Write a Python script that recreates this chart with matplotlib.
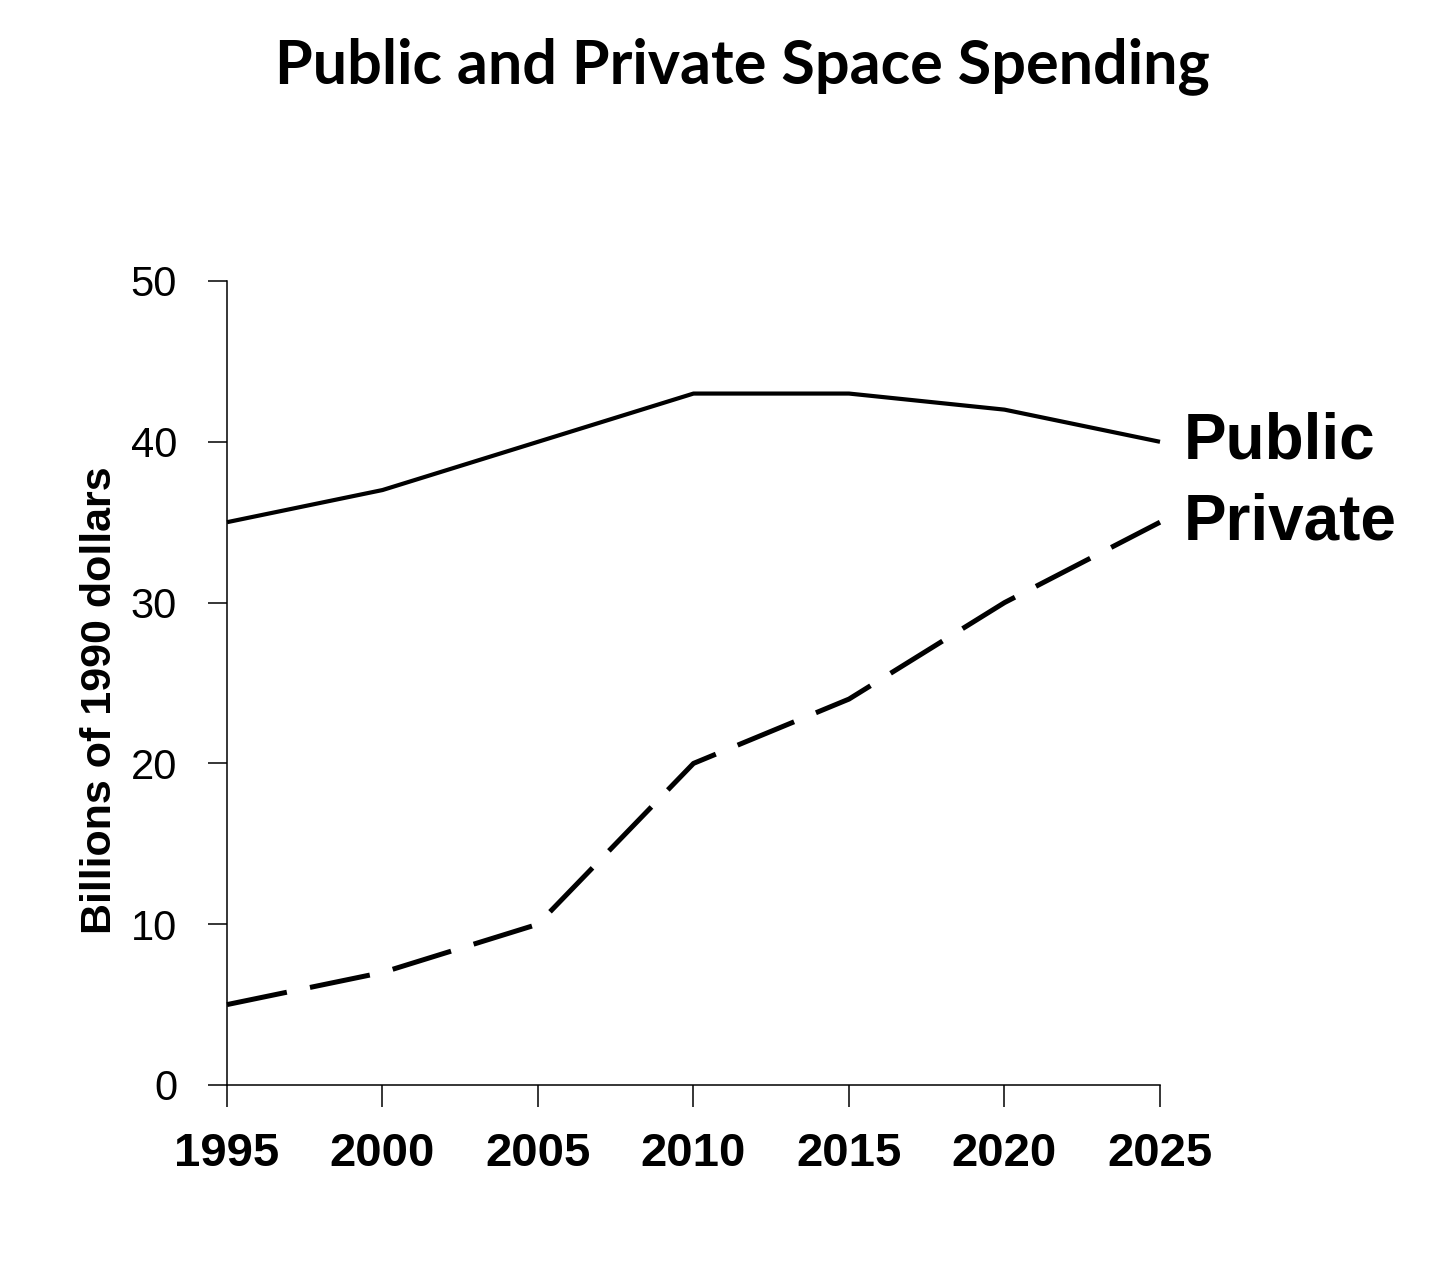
import matplotlib
matplotlib.use("Agg")
import matplotlib.pyplot as plt

years = [1995, 2000, 2005, 2010, 2015, 2020, 2025]
public = [35, 37, 40, 43, 43, 42, 40]
private = [5, 7, 10, 20, 24, 30, 35]
y_ticks = [0, 10, 20, 30, 40, 50]

plt.rcParams['lines.scale_dashes'] = False

fig = plt.figure(figsize=(14.46, 12.88), dpi=100)
ax = fig.add_axes([227 / 1446, 1 - 1085 / 1288, (1160 - 227) / 1446, (1085 - 281) / 1288])

ax.plot(years, public, color='black', lw=3.0, solid_capstyle='butt', clip_on=False)
ax.plot(years, private, color='black', lw=3.6, dashes=(44, 17), dash_capstyle='butt', clip_on=False)

ax.set_xlim(1995, 2025)
ax.set_ylim(0, 50)
ax.set_xticks(years)
ax.set_yticks(y_ticks)
ax.set_xticklabels([str(y) for y in years], family='Liberation Sans', fontweight='bold', fontsize=34)
ax.set_yticklabels([str(v) for v in y_ticks], family='Liberation Sans', fontsize=30)
ax.tick_params(axis='x', length=16, width=1.1, pad=18)
ax.tick_params(axis='y', length=14, width=1.1, pad=22)

for s in ['top', 'right']:
    ax.spines[s].set_visible(False)
for s in ['left', 'bottom']:
    ax.spines[s].set_linewidth(1.1)

ax.set_ylabel('Billions of 1990 dollars', family='Liberation Sans', fontweight='bold', fontsize=31)
ax.yaxis.set_label_coords(-0.115, 0.479)

ax.text(2025.75, public[-1], 'Public', family='Liberation Sans', fontweight='bold', fontsize=46,
        va='center', ha='left')
ax.text(2025.75, private[-1], 'Private', family='Liberation Sans', fontweight='bold', fontsize=46,
        va='center', ha='left')

fig.text(742 / 1446, 1 - 66 / 1288, 'Public and Private Space Spending', family='Lato', fontweight='bold',
         fontsize=44, ha='center', va='center')

fig.savefig('out.png', dpi=100)
